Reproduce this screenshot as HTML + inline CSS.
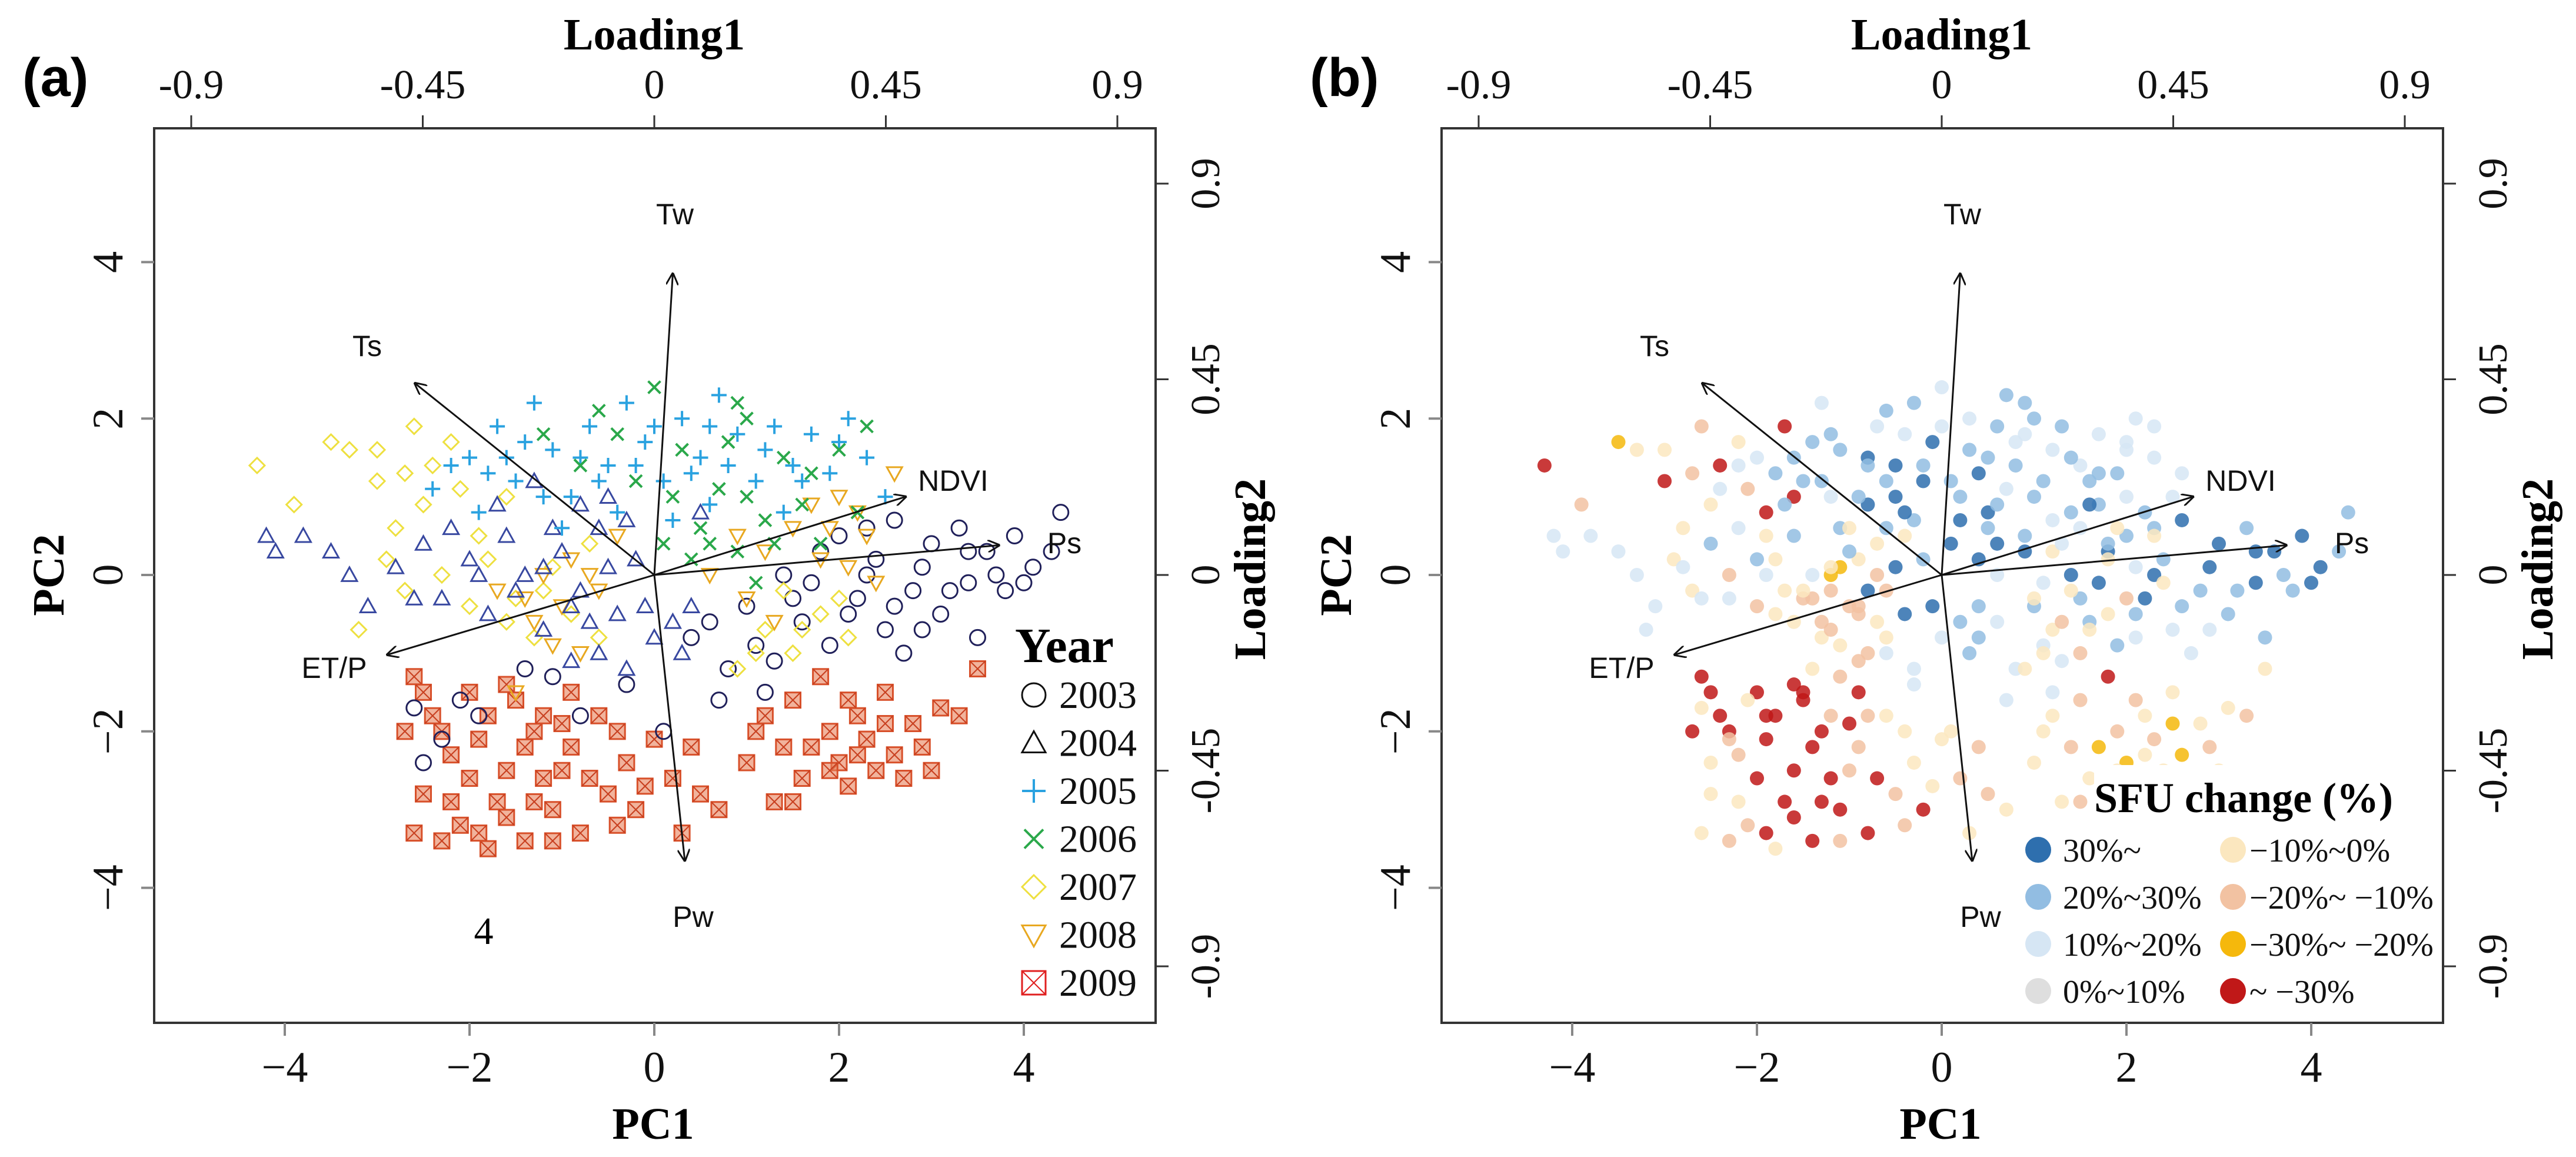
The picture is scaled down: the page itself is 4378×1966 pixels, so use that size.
<!DOCTYPE html>
<html><head><meta charset="utf-8"><style>
html,body{margin:0;padding:0;background:#fff;}
svg{display:block;}
.serif{font-family:"Liberation Serif",serif;}
.sans{font-family:"Liberation Sans",sans-serif;}
</style></head><body>
<svg id="chart" width="4378" height="1966" viewBox="0 0 4378 1966" xmlns="http://www.w3.org/2000/svg">
<rect width="4378" height="1966" fill="#fff"/>
</svg>
<script>
// ---- data (PC1, PC2, SFU class) ----
const y2009 = [[-2.6,-1.3,8],[-2.4,-1.8,8],[-2.2,-2.3,6],[-2.7,-2.0,8],[-2.5,-2.8,5],[-2.1,-3.2,6],[-1.8,-3.5,5],[-1.6,-1.4,8],[-1.5,-1.6,8],[-1.3,-2.0,8],[-1.2,-2.6,8],[-1.1,-3.0,8],[-0.9,-2.2,6],[-0.8,-3.3,8],[-0.6,-1.8,5],[-0.5,-2.8,6],[-0.3,-2.4,5],[-0.2,-3.0,8],[0.0,-2.1,5],[0.2,-2.6,6],[0.5,-2.8,6],[0.7,-3.0,5],[-1.9,-2.1,8],[-1.7,-2.9,8],[-2.3,-3.4,6],[-1.4,-3.4,8],[-0.9,-1.5,8],[-2.0,-1.5,8],[-1.2,-1.8,6],[-1.6,-2.5,8],[1.0,-2.4,5],[1.2,-1.8,5],[1.4,-2.2,6],[1.6,-2.6,5],[1.8,-1.3,8],[1.9,-2.0,6],[2.0,-2.4,7],[2.2,-1.8,5],[2.3,-2.1,6],[2.5,-1.5,5],[2.6,-2.3,7],[2.8,-1.9,5],[3.0,-2.5,5],[3.3,-1.8,6],[3.5,-1.2,5],[0.3,-3.3,5],[2.1,-2.7,6],[1.3,-2.9,5],
[-2.5,-1.5,8],[-2.3,-2.0,8],[-2.0,-2.6,8],[-1.8,-1.8,8],[-1.6,-3.1,8],[-1.4,-2.2,8],[-1.3,-2.9,8],[-1.0,-2.5,6],[-1.0,-1.9,8],[-0.7,-2.6,8],[-0.4,-3.2,6],[-0.4,-2.0,5],[-0.1,-2.7,5],[0.4,-2.2,6],[-2.2,-2.9,5],[-1.9,-3.3,8],[-2.6,-3.3,5],[-1.1,-3.4,6],[1.1,-2.0,5],[1.5,-1.6,6],[1.7,-2.2,7],[1.9,-2.5,5],[2.1,-1.6,6],[2.4,-2.5,5],[2.5,-1.9,7],[2.7,-2.6,5],[2.9,-2.2,6],[3.1,-1.7,5],[1.5,-2.9,6],[2.2,-2.3,5]];
const y2003 = [[0.6,-0.6,3],[0.8,-1.2,3],[1.0,-0.4,2],[1.2,-1.5,3],[1.4,0.0,1],[1.6,-0.6,2],[1.8,0.3,1],[1.9,-0.9,2],[2.0,0.5,2],[2.2,-0.3,1],[2.4,0.2,2],[2.5,-0.7,3],[2.6,0.7,1],[2.8,-0.2,2],[3.0,0.4,1],[3.1,-0.5,2],[3.3,0.6,2],[3.4,-0.1,1],[3.6,0.3,1],[3.8,-0.2,2],[3.9,0.5,1],[4.1,0.1,1],[4.3,0.3,2],[4.4,0.8,2],[2.7,-1.0,3],[3.5,-0.8,2],[1.1,-0.9,3],[-2.6,-1.7,5],[-2.3,-2.1,6],[-1.9,-1.8,8],[-1.4,-1.2,5],[-0.8,-1.8,6],[-0.3,-1.4,3],[0.1,-2.0,5],[-2.5,-2.4,5],[0.4,-0.8,2],
[1.5,-0.3,2],[1.7,-0.1,1],[2.1,-0.5,2],[2.3,0.0,1],[2.6,-0.4,2],[2.9,0.1,1],[3.2,-0.2,2],[3.4,0.3,1],[3.7,0.0,2],[4.0,-0.1,1],[2.3,0.6,2],[2.9,-0.7,3],[1.3,-1.1,3],[0.7,-1.6,3],[-2.1,-1.6,5],[-1.1,-1.3,6]];
const y2004 = [[-4.2,0.5,3],[-3.8,0.5,3],[-4.1,0.3,3],[-3.5,0.3,3],[-3.3,0.0,3],[-3.1,-0.4,3],[-2.8,0.1,3],[-2.5,0.4,2],[-2.3,-0.3,3],[-2.0,0.2,2],[-1.8,-0.5,5],[-1.6,0.5,2],[-1.4,0.0,3],[-1.2,-0.7,6],[-1.0,0.3,2],[-0.8,-0.2,1],[-0.6,0.6,2],[-0.4,-0.5,1],[-0.2,0.2,2],[0.0,-0.8,3],[0.3,-1.0,2],[-0.5,1.0,1],[-1.3,1.2,2],[0.4,-0.4,2],[-0.9,-1.1,6],[-2.2,0.6,3],[-0.3,-1.2,3],[0.5,0.8,1],[-1.7,0.9,2],[-0.7,-0.6,5],
[-1.9,0.0,3],[-1.5,-0.2,5],[-1.1,0.6,2],[-0.9,-0.4,6],[-0.5,0.1,1],[-0.3,0.7,2],[-0.1,-0.4,1],[0.2,-0.6,2],[-1.2,0.1,5],[-0.6,-1.0,3],[-2.6,-0.3,3],[-0.8,0.9,1]];
const y2005 = [[-2.4,1.1,3],[-2.0,1.5,3],[-1.7,1.9,8],[-1.5,1.2,2],[-1.3,2.2,3],[-1.1,1.6,2],[-0.9,1.0,2],[-0.7,1.9,3],[-0.5,1.4,1],[-0.3,2.2,2],[-0.1,1.7,1],[0.1,1.2,2],[0.3,2.0,3],[0.5,1.5,2],[0.7,2.3,2],[0.9,1.8,3],[1.1,1.2,2],[1.3,1.9,2],[1.5,1.4,3],[1.7,1.8,3],[1.9,1.3,2],[2.1,2.0,3],[2.3,1.5,3],[2.5,1.0,3],[0.2,0.7,1],[-1.0,0.6,5],[0.6,0.9,2],[-0.4,0.8,1],[1.4,0.8,2],[-1.9,0.8,8],
[-2.2,1.4,3],[-1.8,1.3,2],[-1.4,1.7,2],[-1.2,1.0,3],[-0.8,1.5,1],[-0.6,1.2,2],[-0.2,1.4,2],[0.0,1.9,3],[0.4,1.3,1],[0.8,1.4,2],[1.2,1.6,3],[1.6,1.2,2],[2.0,1.7,3],[0.6,1.9,2],[-1.6,1.5,2]];
const y2006 = [[-0.6,2.1,2],[-0.2,1.2,1],[0.0,2.4,3],[0.3,1.6,2],[0.5,0.6,2],[0.7,1.1,3],[0.9,0.3,1],[1.0,2.0,2],[1.2,0.7,3],[1.4,1.5,2],[1.6,0.9,1],[1.8,0.4,2],[2.0,1.6,3],[2.2,0.8,2],[2.3,1.9,3],[0.4,0.2,1],[-0.8,1.4,2],[1.1,-0.1,3],[0.8,1.7,3],[-1.2,1.8,2],
[0.2,1.0,2],[0.6,0.4,1],[1.0,1.0,2],[1.3,0.4,3],[1.7,1.3,2],[0.1,0.4,1],[-0.4,1.8,3],[0.9,2.2,2]];
const y2007 = [[-4.3,1.4,8],[-3.9,0.9,6],[-3.5,1.7,7],[-3.3,1.6,5],[-3.0,1.2,8],[-2.8,0.6,5],[-2.6,1.9,6],[-2.4,1.4,8],[-2.2,1.7,5],[-2.0,-0.4,6],[-1.8,0.2,5],[-1.5,-0.3,6],[-1.3,-0.8,5],[-1.1,0.1,7],[-0.9,-0.5,6],[-0.7,0.4,5],[-2.7,-0.2,5],[-3.2,-0.7,3],[1.2,-0.7,5],[1.5,-1.0,6],[1.8,-0.5,5],[2.1,-0.8,3],[1.4,-0.2,5],[-1.6,1.0,8],[-2.9,0.2,5],[0.9,-1.2,5],
[-3.0,1.6,5],[-2.7,1.3,6],[-2.5,0.9,5],[-2.1,1.1,6],[-1.9,0.5,5],[-2.3,0.0,6],[-1.6,-0.6,5],[-1.2,-0.2,6],[-0.6,-0.8,5],[1.6,-0.7,5],[2.0,-0.3,6],[1.1,-1.0,5]];
const y2008 = [[-1.4,-0.3,6],[-1.2,0.0,7],[-1.0,-0.4,6],[-0.9,0.2,5],[-0.6,-0.2,6],[-0.4,0.5,5],[0.6,0.0,3],[0.9,0.5,2],[1.2,0.3,5],[1.5,0.6,3],[1.7,0.9,2],[1.9,0.6,5],[2.1,0.1,3],[2.3,0.5,5],[2.6,1.3,3],[2.4,-0.1,5],[1.3,-0.6,6],[-1.5,-1.5,8],[-0.8,-1.0,6],[2.0,1.0,3],
[-1.3,-0.6,6],[-1.1,-0.9,5],[-0.7,0.0,6],[1.8,0.2,5],[2.2,0.8,3],[1.0,-0.3,5],[-1.7,-0.2,5]];
const arrowNames = ["Tw","Ts","NDVI","Ps","ET/P","Pw"];
const arrowPC1 = [0.2,-2.59,2.72,3.73,-2.89,0.33];
const arrowPC2 = [3.85,2.45,1.0,0.38,-1.02,-3.65];
const xTicks = [-4,-2,0,2,4];
const yTicks = [-4,-2,0,2,4];
const loadTicks = [-0.9,-0.45,0,0.45,0.9];
const loadLabels = ["-0.9","-0.45","0","0.45","0.9"];
const yearLabels = ["2003","2004","2005","2006","2007","2008","2009"];
const sfuLabels = ["30%~","20%~30%","10%~20%","0%~10%","\u221210%~0%","\u221220%~ \u221210%","\u221230%~ \u221220%","~ \u221230%"];
const sfuColors = ["#2e6fae","#92bde2","#d6e6f4","#dedede","#fbe7bf","#f2c2a2","#f5b80c","#c01818"];

const NS="http://www.w3.org/2000/svg";
const svg=document.getElementById("chart");
function el(tag,attrs,parent){const e=document.createElementNS(NS,tag);for(const k in attrs)e.setAttribute(k,attrs[k]);(parent||svg).appendChild(e);return e;}
function txt(s,attrs,parent){const e=el("text",attrs,parent);e.textContent=s;return e;}

const BOX={l:262,r:1964,t:218,b:1738};
const X0=1112,Y0=977,SX=157,SY=132.9,LX=787/0.9,LY=665/0.9;

function panel(dx,mode){
  const g=el("g",{});
  
  
  const xs=v=>dx+X0+v*SX, ys=v=>Y0-v*SY;
  const fr=el("rect",{x:dx+BOX.l,y:BOX.t,width:BOX.r-BOX.l,height:BOX.b-BOX.t,fill:"none",stroke:"#333",'stroke-width':4},g);
  
  
  xTicks.forEach(v=>{
    el("line",{x1:xs(v),x2:xs(v),y1:BOX.b,y2:BOX.b+22,stroke:"#888",'stroke-width':4},g);
    const t=txt(v<0?"\u2212"+(-v):String(v),{x:xs(v),y:1838,'font-size':74,'text-anchor':'middle',class:'serif',fill:'#111'},g);
    
    
  });
  yTicks.forEach(v=>{
    el("line",{x1:dx+BOX.l-22,x2:dx+BOX.l,y1:ys(v),y2:ys(v),stroke:"#888",'stroke-width':4},g);
    const t=txt(v<0?"\u2212"+(-v):String(v),{x:0,y:0,'font-size':74,'text-anchor':'middle',class:'serif',fill:'#111',transform:`translate(${dx+208},${ys(v)}) rotate(-90)`},g);
    
    
  });
  loadTicks.forEach((v,i)=>{
    el("line",{x1:dx+X0+v*LX,x2:dx+X0+v*LX,y1:BOX.t-22,y2:BOX.t,stroke:"#333",'stroke-width':3},g);
    const t=txt(loadLabels[i],{x:dx+X0+v*LX,y:167,'font-size':70,'text-anchor':'middle',class:'serif',fill:'#111'},g);
    
    
  });
  loadTicks.forEach((v,i)=>{
    const yy=Y0-v*LY;
    el("line",{x1:dx+BOX.r,x2:dx+BOX.r+22,y1:yy,y2:yy,stroke:"#333",'stroke-width':3},g);
    const t=txt(loadLabels[i],{x:0,y:0,'font-size':70,'text-anchor':'middle',class:'serif',fill:'#111',transform:`translate(${dx+2072},${yy}) rotate(-90)`},g);
    
    
  });
  let t=txt("Loading1",{x:dx+1112,y:84,'font-size':76,'font-weight':'bold','text-anchor':'middle',class:'serif'},g);
  
  t=txt("PC1",{x:dx+1110,y:1935,'font-size':76,'font-weight':'bold','text-anchor':'middle',class:'serif'},g);
  
  t=txt("PC2",{x:0,y:0,'font-size':76,'font-weight':'bold','text-anchor':'middle',class:'serif',transform:`translate(${dx+108},${Y0}) rotate(-90)`},g);
  
  t=txt("Loading2",{x:0,y:0,'font-size':76,'font-weight':'bold','text-anchor':'middle',class:'serif',transform:`translate(${dx+2150},${Y0-10}) rotate(-90)`},g);
  
  t=txt(mode==='a'?"(a)":"(b)",{x:dx+38,y:163,'font-size':92,'font-weight':'bold',class:'sans'},g);
  

  const groups=[["2009",y2009],["2003",y2003],["2007",y2007],["2008",y2008],["2004",y2004],["2005",y2005],["2006",y2006]];
  const pg=el("g",{},g);
  groups.forEach(([yr,arr])=>{
    arr.forEach(p=>{
      const cx=xs(p[0]),cy=ys(p[1]);
      const m=mode==='a'?symbol(yr,cx,cy,13,pg):el("circle",{cx,cy,r:12,fill:sfuColors[p[2]-1],'fill-opacity':0.85},pg);
      
      
    });
  });
  arrowNames.forEach((n,i)=>{
    const x2=xs(arrowPC1[i]),y2=ys(arrowPC2[i]);
    const a=el("line",{x1:xs(0),y1:ys(0),x2,y2,stroke:'#111','stroke-width':3,'marker-end':'url(#ah)'},g);
    
    
  });
  const lab=[[1147,381],[624,605],[1620,834],[1809,940],[568,1152],[1178,1575]];
  arrowNames.forEach((n,i)=>{
    const l=txt(n,{x:dx+lab[i][0],y:lab[i][1],'font-size':50,'text-anchor':'middle',class:'sans',fill:'#111'},g);
    
    
  });
  if(mode==='a'){
    t=txt("4",{x:822,y:1604,'font-size':66,'text-anchor':'middle',class:'serif'},g);
    
    t=txt("Year",{x:1809,y:1125,'font-size':84,'font-weight':'bold','text-anchor':'middle',class:'serif'},g);
    
    yearLabels.forEach((yl,i)=>{
      const yy=1181+i*81.5;
      const s=symbol(yl,1757,yy,20,g,true);
      
      const lt=txt(yl,{x:1800,y:yy+22,'font-size':66,class:'serif',fill:'#111'},g);
      
    });
  } else {
    const bg=el("rect",{x:dx+1371,y:1300,width:580,height:436,fill:'#fff'},g);
    
    t=txt("SFU change (%)",{x:dx+1625,y:1380,'font-size':72,'font-weight':'bold','text-anchor':'middle',class:'serif'},g);
    
    sfuLabels.forEach((sl,i)=>{
      const col=Math.floor(i/4),row=i%4;
      const yy=1444+row*80;
      const cx=dx+(col?1607:1276);
      const c=el("circle",{cx,cy:yy,r:22,fill:sfuColors[i]},g);
      
      const lt=txt(sl,{x:cx+(col?28:42),y:yy+20,'font-size':56,class:'serif',fill:'#111'},g);
      
    });
  }
}
function symbol(yr,x,y,r,parent,legend){
  const sw=legend?3:3;
  switch(yr){
    case "2003": return el("circle",{cx:x,cy:y,r,fill:'none',stroke:legend?'#111':'#20205a','stroke-width':sw},parent);
    case "2004": return el("polygon",{points:`${x},${y-r} ${x-r},${y+r*0.8} ${x+r},${y+r*0.8}`,fill:'none',stroke:legend?'#111':'#3848a0','stroke-width':sw},parent);
    case "2005": return el("path",{d:`M${x-r} ${y}H${x+r}M${x} ${y-r}V${y+r}`,stroke:'#2aa2e0','stroke-width':sw+1},parent);
    case "2006": return el("path",{d:`M${x-r*0.8} ${y-r*0.8}L${x+r*0.8} ${y+r*0.8}M${x+r*0.8} ${y-r*0.8}L${x-r*0.8} ${y+r*0.8}`,stroke:'#2aa84a','stroke-width':sw+1},parent);
    case "2007": return el("polygon",{points:`${x},${y-r} ${x+r},${y} ${x},${y+r} ${x-r},${y}`,fill:'none',stroke:'#eee040','stroke-width':sw},parent);
    case "2008": return el("polygon",{points:`${x-r},${y-r*0.8} ${x+r},${y-r*0.8} ${x},${y+r}`,fill:'none',stroke:'#e8a820','stroke-width':sw},parent);
    default: {
      const gg=el("g",{},parent);
      el("rect",{x:x-r,y:y-r,width:2*r,height:2*r,fill:legend?'none':'#e8805a','fill-opacity':0.6,stroke:legend?'#e02020':'#d8502a','stroke-width':sw},gg);
      el("path",{d:`M${x-r} ${y-r}L${x+r} ${y+r}M${x+r} ${y-r}L${x-r} ${y+r}`,stroke:legend?'#e02020':'#c84020','stroke-width':sw*0.7},gg);
      return gg;
    }
  }
}
const defs=el("defs",{});
const mk=el("marker",{id:'ah',viewBox:'0 0 10 10',refX:9,refY:5,markerWidth:7,markerHeight:7,orient:'auto'},defs);
el("path",{d:'M0 0L10 5L0 10',fill:'none',stroke:'#111','stroke-width':1.4},mk);
panel(0,'a');
panel(2188,'b');
</script>
</body></html>
